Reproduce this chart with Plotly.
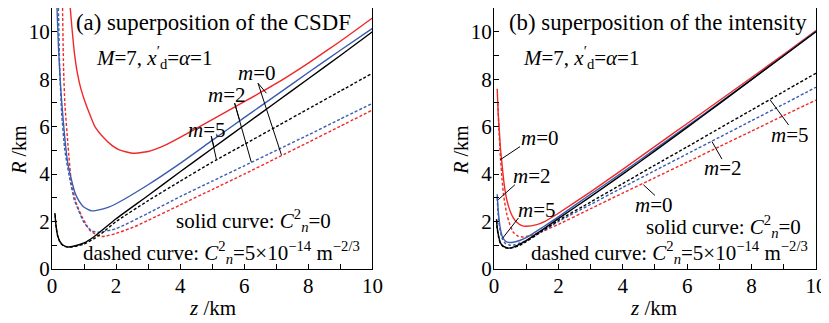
import plotly.graph_objects as go

# ---------------- data: panel (a) superposition of the CSDF ----------------
a_red_solid_z = [0.57, 0.62, 0.7, 0.8, 0.9, 1.03, 1.2, 1.34, 1.6, 1.86, 2.1, 2.5, 3.0, 3.5, 4.0, 5.0, 6.0, 7.0, 8.0, 9.0, 10.0]
a_red_solid_R = [11.0, 10.2, 9.1, 8.2, 7.6, 7.05, 6.45, 6.0, 5.55, 5.22, 5.02, 4.88, 4.95, 5.2, 5.55, 6.3, 7.05, 7.82, 8.68, 9.6, 10.58]

a_blue_solid_z = [0.155, 0.2, 0.25, 0.3, 0.4, 0.5, 0.6, 0.72, 0.85, 1.0, 1.24, 1.5, 1.75, 2.0, 3.0, 4.0, 5.0, 6.0, 7.0, 8.0, 9.0, 10.0]
a_blue_solid_R = [11.0, 9.4, 8.1, 7.1, 5.5, 4.4, 3.8, 3.2, 2.85, 2.6, 2.45, 2.5, 2.6, 2.75, 3.55, 4.45, 5.42, 6.38, 7.33, 8.28, 9.22, 10.14]

a_black_solid_z = [0.09, 0.12, 0.17, 0.25, 0.35, 0.5, 0.7, 1.0, 1.3, 1.55, 2.0, 3.0, 4.0, 5.0, 6.0, 7.0, 8.0, 9.0, 10.0]
a_black_solid_R = [2.36, 1.9, 1.45, 1.15, 1.0, 0.93, 0.97, 1.1, 1.35, 1.62, 2.12, 3.1, 4.1, 5.08, 6.06, 7.04, 8.02, 9.0, 10.0]

a_red_dash_z = [0.33, 0.36, 0.4, 0.5, 0.61, 0.75, 0.93, 1.2, 1.55, 2.0, 2.59, 3.0, 4.0, 5.0, 6.0, 7.0, 8.0, 9.0, 10.0]
a_red_dash_R = [11.0, 8.5, 7.0, 5.2, 3.62, 2.8, 2.22, 1.6, 1.37, 1.5, 1.79, 2.05, 2.7, 3.35, 4.0, 4.67, 5.34, 6.02, 6.7]

a_blue_dash_z = [0.2, 0.24, 0.3, 0.4, 0.56, 0.7, 0.82, 1.0, 1.24, 1.5, 2.0, 3.0, 4.0, 5.0, 6.0, 7.0, 8.0, 9.0, 10.0]
a_blue_dash_R = [11.0, 8.5, 6.6, 5.0, 3.76, 2.9, 2.5, 1.95, 1.6, 1.55, 1.7, 2.35, 3.05, 3.7, 4.35, 5.0, 5.65, 6.32, 6.98]

a_black_dash_z = [0.1, 0.12, 0.17, 0.25, 0.35, 0.5, 0.7, 1.0, 1.3, 1.55, 2.0, 3.0, 4.0, 5.0, 6.0, 7.0, 8.0, 9.0, 10.0]
a_black_dash_R = [2.3, 1.85, 1.42, 1.12, 0.98, 0.92, 0.95, 1.05, 1.27, 1.5, 2.0, 2.88, 3.7, 4.5, 5.25, 6.0, 6.75, 7.5, 8.25]

# ---------------- data: panel (b) superposition of the intensity ----------------
b_red_solid_z = [0.1, 0.13, 0.165, 0.2, 0.24, 0.3, 0.34, 0.4, 0.5, 0.6, 0.7, 0.85, 1.0, 1.33, 1.6, 2.0, 3.0, 4.0, 5.0, 6.0, 7.0, 8.0, 9.0, 10.0]
b_red_solid_R = [7.6, 6.6, 5.85, 5.1, 4.55, 3.75, 3.35, 2.9, 2.45, 2.15, 1.98, 1.84, 1.8, 1.87, 2.02, 2.35, 3.25, 4.2, 5.17, 6.13, 7.1, 8.07, 9.05, 10.05]

b_blue_solid_z = [0.1, 0.13, 0.18, 0.25, 0.35, 0.45, 0.6, 0.8, 1.0, 1.5, 2.0, 3.0, 4.0, 5.0, 6.0, 7.0, 8.0, 9.0, 10.0]
b_blue_solid_R = [3.15, 2.5, 1.85, 1.4, 1.18, 1.12, 1.13, 1.2, 1.32, 1.75, 2.2, 3.15, 4.08, 5.05, 6.02, 7.0, 7.99, 9.0, 10.02]

b_black_solid_z = [0.08, 0.1, 0.15, 0.2, 0.3, 0.45, 0.6, 0.8, 1.0, 1.5, 2.0, 3.0, 4.0, 5.0, 6.0, 7.0, 8.0, 9.0, 10.0]
b_black_solid_R = [2.1, 1.75, 1.35, 1.1, 0.95, 0.88, 0.92, 1.05, 1.2, 1.65, 2.12, 3.05, 4.0, 4.98, 5.97, 6.97, 7.98, 8.99, 10.0]

b_red_dash_z = [0.12, 0.15, 0.2, 0.25, 0.3, 0.4, 0.5, 0.6, 0.75, 0.9, 1.1, 1.5, 2.0, 3.0, 4.0, 5.0, 6.0, 7.0, 8.0, 9.0, 10.0]
b_red_dash_R = [7.0, 6.0, 4.7, 3.8, 3.1, 2.3, 1.85, 1.55, 1.38, 1.35, 1.4, 1.58, 1.88, 2.54, 3.2, 3.85, 4.5, 5.16, 5.81, 6.47, 7.12]

b_blue_dash_z = [0.1, 0.13, 0.18, 0.25, 0.35, 0.5, 0.65, 0.8, 1.0, 1.5, 2.0, 3.0, 4.0, 5.0, 6.0, 7.0, 8.0, 9.0, 10.0]
b_blue_dash_R = [3.0, 2.3, 1.7, 1.3, 1.08, 1.0, 1.02, 1.1, 1.2, 1.58, 2.0, 2.72, 3.44, 4.15, 4.85, 5.55, 6.25, 6.95, 7.66]

b_black_dash_z = [0.08, 0.1, 0.15, 0.2, 0.3, 0.45, 0.6, 0.8, 1.0, 1.5, 2.0, 3.0, 4.0, 5.0, 6.0, 7.0, 8.0, 9.0, 10.0]
b_black_dash_R = [2.05, 1.7, 1.3, 1.08, 0.93, 0.87, 0.9, 1.0, 1.15, 1.6, 2.05, 2.82, 3.6, 4.38, 5.15, 5.93, 6.7, 7.48, 8.25]

# m labels: (text, x, y) and leader lines (x0, y0, x1, y1)
a_labels = [("m=0", 6.4, 8.25), ("m=2", 5.46, 7.33), ("m=5", 4.84, 5.86)]
a_leaders = [(6.43, 7.83, 6.69, 7.41), (6.43, 7.83, 7.16, 4.81),
             (5.70, 6.99, 5.85, 6.30), (5.70, 6.99, 6.22, 4.50),
             (4.97, 5.60, 5.05, 5.17), (4.97, 5.60, 5.13, 4.62)]
b_labels = [("m=0", 1.43, 5.51), ("m=2", 1.19, 3.9), ("m=5", 1.33, 2.5),
            ("m=5", 9.2, 5.65), ("m=2", 7.1, 4.25), ("m=0", 4.97, 2.7)]
b_leaders = [(0.81, 5.16, 0.19, 4.6), (0.65, 3.55, 0.13, 2.92), (0.76, 2.15, 0.27, 1.3),
             (9.15, 6.07, 8.58, 7.12), (7.08, 4.63, 6.77, 5.37), (5.0, 3.1, 4.64, 3.55)]

RED = "#f02828"
BLUE = "#3a5cb0"
BLACK = "#000000"
FONT = "Liberation Serif, Times New Roman, serif"
FS = 21
DASH = "3px,2px"

fig = go.Figure()

def add(z, R, color, dash, xa, ya):
    fig.add_trace(go.Scatter(x=z, y=R, mode="lines", xaxis=xa, yaxis=ya,
                             line=dict(color=color, width=1.4, dash=dash, shape="spline", smoothing=0.5),
                             showlegend=False, hoverinfo="skip"))

for xa, ya, sets in [
    ("x", "y", [(a_red_dash_z, a_red_dash_R, RED), (a_blue_dash_z, a_blue_dash_R, BLUE), (a_black_dash_z, a_black_dash_R, BLACK)]),
    ("x2", "y2", [(b_red_dash_z, b_red_dash_R, RED), (b_blue_dash_z, b_blue_dash_R, BLUE), (b_black_dash_z, b_black_dash_R, BLACK)]),
]:
    for z, R, c in sets:
        add(z, R, c, DASH, xa, ya)

add(a_red_solid_z, a_red_solid_R, RED, "solid", "x", "y")
add(a_blue_solid_z, a_blue_solid_R, BLUE, "solid", "x", "y")
add(a_black_solid_z, a_black_solid_R, BLACK, "solid", "x", "y")
add(b_red_solid_z, b_red_solid_R, RED, "solid", "x2", "y2")
add(b_blue_solid_z, b_blue_solid_R, BLUE, "solid", "x2", "y2")
add(b_black_solid_z, b_black_solid_R, BLACK, "solid", "x2", "y2")

axis_common = dict(range=[0, 10], dtick=2, ticks="inside", ticklen=5, tickwidth=1, tickcolor="black",
                   showline=True, linecolor="black", linewidth=1, mirror=True, showgrid=False, zeroline=False,
                   tickfont=dict(family=FONT, size=FS, color="black"),
                   minor=dict(dtick=1, ticks="inside", ticklen=5, tickcolor="black", showgrid=False))
xaxis_common = dict(axis_common, ticklabelstandoff=-2)
yaxis_common = dict(axis_common)
yaxis_common["range"] = [0, 11]
yaxis_common["tickvals"] = [0, 2, 4, 6, 8, 10]
yaxis_common["ticklabelstandoff"] = -3

# the page body adds an 8px margin at top/left, so the figure is shifted by 8px
fig.update_layout(
    width=821, height=315,
    margin=dict(l=44, r=13, t=0, b=54),
    paper_bgcolor="white", plot_bgcolor="white",
    font=dict(family=FONT, size=FS, color="black"),
    xaxis=dict(xaxis_common, domain=[0, 0.4194], anchor="y"),
    yaxis=dict(yaxis_common, domain=[0, 1], anchor="x"),
    xaxis2=dict(xaxis_common, domain=[0.5785, 1.0], anchor="y2"),
    yaxis2=dict(yaxis_common, domain=[0, 1], anchor="x2"),
)

ann = []
def txt(text, x, y, xref, yref, xanchor="left", size=FS, textangle=0):
    ann.append(dict(text=text, x=x, y=y, xref=xref, yref=yref, xanchor=xanchor, yanchor="middle",
                    showarrow=False, font=dict(family=FONT, size=size, color="black"), textangle=textangle,
                    borderpad=0))

txt("(a) superposition of the CSDF", 0.71, 10.41, "x", "y", size=22.8)
txt("(b) superposition of the intensity", 0.44, 10.41, "x2", "y2", size=22.8)

MX = "<i>M</i>=7, <i>x</i><sup>′</sup><sub>d</sub>=<i>α</i>=1"
txt(MX, 1.34, 8.9, "x", "y")
txt(MX, 0.87, 8.9, "x2", "y2")
SOL = "solid curve: <i>C</i><sup>2</sup><sub><i>n</i></sub>=0"
DSH = "dashed curve: <i>C</i><sup>2</sup><sub><i>n</i></sub>=5×10<sup>−14</sup> m<sup>−2/3</sup>"
txt(SOL, 3.83, 2.05, "x", "y")
txt(DSH, 0.93, 0.69, "x", "y")
txt(SOL, 4.69, 1.78, "x2", "y2")
txt(DSH, 1.12, 0.69, "x2", "y2")

for t, x, y in a_labels:
    m, v = t.split("=")
    txt(f"<i>{m}</i>={v}", x, y, "x", "y", xanchor="center")
for t, x, y in b_labels:
    m, v = t.split("=")
    txt(f"<i>{m}</i>={v}", x, y, "x2", "y2", xanchor="center")

# axis titles
txt("<i>z</i> /km", 0.2097, -0.15, "paper", "paper", xanchor="center")
txt("<i>z</i> /km", 0.787, -0.15, "paper", "paper", xanchor="center")
txt("<i>R</i> /km", -0.0435, 0.456, "paper", "paper", xanchor="center", textangle=-90, size=20)
txt("<i>R</i> /km", 0.535, 0.456, "paper", "paper", xanchor="center", textangle=-90, size=20)

fig.update_layout(annotations=ann)

shapes = []
for (x0, y0, x1, y1) in a_leaders:
    shapes.append(dict(type="line", xref="x", yref="y", x0=x0, y0=y0, x1=x1, y1=y1,
                       line=dict(color="black", width=1)))
for (x0, y0, x1, y1) in b_leaders:
    shapes.append(dict(type="line", xref="x2", yref="y2", x0=x0, y0=y0, x1=x1, y1=y1,
                       line=dict(color="black", width=1)))
fig.update_layout(shapes=shapes)

fig.write_html("out.html")
